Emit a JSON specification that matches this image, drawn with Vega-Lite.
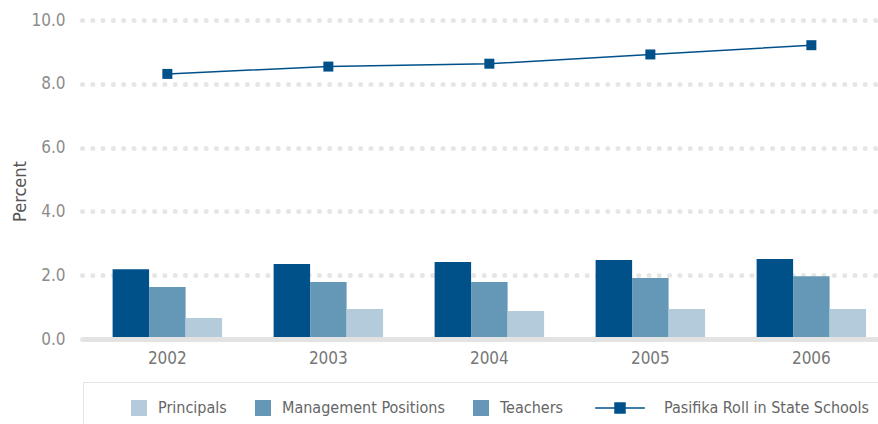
{
  "$schema": "https://vega.github.io/schema/vega-lite/v6.json",
  "width": 796,
  "height": 319,
  "autosize": "none",
  "padding": {"left": 82, "top": 20, "right": 0, "bottom": 85},
  "background": "white",
  "config": {
    "font": "DejaVu Sans Condensed, Lato, sans-serif",
    "view": {"stroke": null}
  },
  "data": {
    "values": [
      {"year": "2002", "series": "Teachers", "value": 2.19},
      {"year": "2002", "series": "Management Positions", "value": 1.63},
      {"year": "2002", "series": "Principals", "value": 0.66},
      {"year": "2002", "series": "Pasifika Roll in State Schools", "value": 8.31},
      {"year": "2003", "series": "Teachers", "value": 2.35},
      {"year": "2003", "series": "Management Positions", "value": 1.79},
      {"year": "2003", "series": "Principals", "value": 0.94},
      {"year": "2003", "series": "Pasifika Roll in State Schools", "value": 8.54},
      {"year": "2004", "series": "Teachers", "value": 2.41},
      {"year": "2004", "series": "Management Positions", "value": 1.79},
      {"year": "2004", "series": "Principals", "value": 0.88},
      {"year": "2004", "series": "Pasifika Roll in State Schools", "value": 8.63},
      {"year": "2005", "series": "Teachers", "value": 2.48},
      {"year": "2005", "series": "Management Positions", "value": 1.91},
      {"year": "2005", "series": "Principals", "value": 0.94},
      {"year": "2005", "series": "Pasifika Roll in State Schools", "value": 8.92},
      {"year": "2006", "series": "Teachers", "value": 2.51},
      {"year": "2006", "series": "Management Positions", "value": 1.97},
      {"year": "2006", "series": "Principals", "value": 0.94},
      {"year": "2006", "series": "Pasifika Roll in State Schools", "value": 9.21}
    ]
  },
  "encoding": {
    "x": {
      "field": "year",
      "type": "nominal",
      "scale": {"paddingInner": 0.32, "paddingOuter": 0.132, "align": 0.72},
      "axis": {
        "title": null,
        "labelAngle": 0,
        "ticks": false,
        "domainColor": "#e3e3e3",
        "domainWidth": 5,
        "labelFontSize": 17,
        "labelColor": "#777777",
        "labelPadding": 11,
        "zindex": 1
      }
    },
    "y": {
      "field": "value",
      "type": "quantitative",
      "scale": {"domain": [0, 10], "nice": false},
      "axis": {
        "title": "Percent",
        "titleFontSize": 18,
        "titleFontWeight": "normal",
        "titleColor": "#555555",
        "titleX": -62,
        "titleY": 171,
        "titleBaseline": "middle",
        "titleAlign": "center",
        "values": [0, 2, 4, 6, 8, 10],
        "format": ".1f",
        "labelFontSize": 17,
        "labelColor": "#8c8c8c",
        "labelPadding": 17,
        "ticks": false,
        "domain": false,
        "grid": true,
        "gridDash": [0, 10.3],
        "gridCap": "round",
        "gridWidth": 5,
        "gridColor": "#e6e6e6"
      }
    }
  },
  "layer": [
    {
      "transform": [{"filter": "datum.series !== 'Pasifika Roll in State Schools'"}],
      "mark": {"type": "bar"},
      "encoding": {
        "xOffset": {
          "field": "series",
          "type": "nominal",
          "sort": ["Teachers", "Management Positions", "Principals"],
          "scale": {"paddingInner": 0, "paddingOuter": 0}
        },
        "color": {
          "field": "series",
          "type": "nominal",
          "scale": {
            "domain": ["Principals", "Management Positions", "Teachers", "Pasifika Roll in State Schools"],
            "range": ["#b3cbdb", "#6597b7", "#00518a", "#00518a"]
          },
          "legend": {
            "orient": "none",
            "legendX": 1,
            "legendY": 362,
            "direction": "horizontal",
            "columns": 4,
            "title": " ",
            "titleOrient": "left",
            "titlePadding": 30,
            "padding": 18,
            "strokeColor": "#e3e3e3",
            "symbolType": "square",
            "symbolSize": 256,
            "symbolStrokeWidth": 0,
            "labelFontSize": 16,
            "labelColor": "#666666",
            "labelOffset": 11,
            "labelLimit": 400,
            "columnPadding": 28,
            "encode": {
              "symbols": {
                "update": {
                  "shape": {"signal": "datum.value === 'Pasifika Roll in State Schools' ? 'M-3.1,0H3.1M-0.625,-0.625H0.625V0.625H-0.625Z' : 'square'"},
                  "stroke": {"signal": "datum.value === 'Pasifika Roll in State Schools' ? '#00518a' : 'transparent'"},
                  "strokeWidth": {"signal": "datum.value === 'Pasifika Roll in State Schools' ? 1.5 : 0"},
                  "opacity": {"signal": "datum.value === 'Teachers' ? 0.6 : 1"},
                  "x": {"signal": "datum.value === 'Pasifika Roll in State Schools' ? 25 : 8"}
                }
              },
              "labels": {
                "update": {
                  "x": {"signal": "datum.value === 'Pasifika Roll in State Schools' ? 69 : 27"}
                }
              }
            }
          }
        }
      }
    },
    {
      "transform": [{"filter": "datum.series === 'Pasifika Roll in State Schools'"}],
      "mark": {
        "type": "line",
        "color": "#00518a",
        "strokeWidth": 1.5,
        "point": {"shape": "square", "size": 100, "filled": true, "color": "#00518a", "opacity": 1}
      },
      "encoding": {}
    }
  ]
}
